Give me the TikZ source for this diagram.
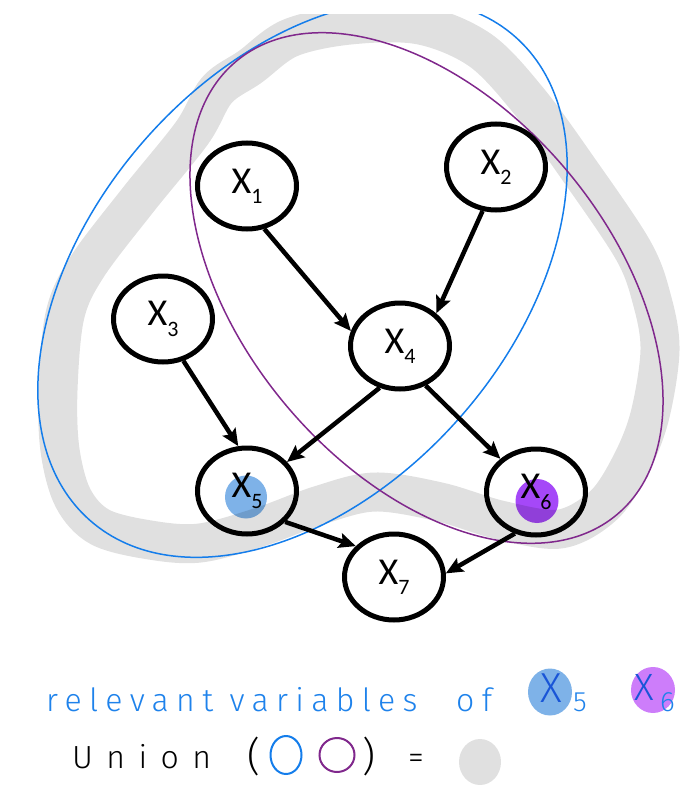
\documentclass[tikz,border=0pt]{standalone}
\usepackage{fontspec}
\setmainfont{Carlito}
\newfontfamily\hand{Fira Sans Light}[LetterSpace=23]
\newfontfamily\handwide{Fira Sans Light}[LetterSpace=42]
\usetikzlibrary{arrows.meta,shapes.geometric}
\definecolor{ringblue}{RGB}{20,125,235}
\definecolor{ringpurple}{RGB}{128,40,140}
\definecolor{dotblue}{RGB}{126,178,232}
\definecolor{dotpurple}{RGB}{165,72,248}
\definecolor{legpurple}{RGB}{205,125,250}
\definecolor{bandgray}{RGB}{224,224,224}
\definecolor{inkblue}{RGB}{30,130,235}
\definecolor{inkdark}{RGB}{25,85,215}
\newcommand{\xsub}[1]{X\raisebox{-0.27em}{\fontsize{22}{22}\selectfont #1}}
\tikzset{var/.style={draw,ellipse,line width=5pt,minimum width=99pt,minimum height=86pt,
    inner sep=0pt,font=\fontsize{38}{38}\selectfont},
  arr/.style={-{Stealth[length=17pt,width=15pt,inset=3pt]},line width=4.5pt},
  ring/.style={line width=1.5pt},
  band/.style={line width=39pt,bandgray,line join=round},
  hand/.style={font=\hand\fontsize{32}{32}\selectfont,inner sep=0pt},
  dot/.style={ellipse,inner sep=0pt}}

\begin{document}
\begin{tikzpicture}[x=1pt,y=1pt]
\useasboundingbox (0,0) rectangle (692,-800);
% the union band and the two relevance rings
\begin{scope}
\clip (0,-15) rectangle (692,-800);
\draw[band] plot[smooth cycle,tension=0.55] coordinates {(350,-25) (420,-25) (480,-50) (528,-100)
  (577,-167) (633,-250) (652,-300) (660,-350) (650,-415) (632,-462) (604,-505) (560,-529)
  (500,-520) (440,-502) (375,-492) (320,-505) (260,-527) (200,-543) (150,-540) (100,-527)
  (73,-498) (60,-450) (58,-390) (65,-315) (87,-267) (138,-200) (192,-133) (217,-90)
  (250,-67) (290,-38)};
\draw[ring,ringblue,rotate around={48.7:(302.5,-278.5)}] (302.5,-278.5) ellipse[x radius=322,y radius=210];
\draw[ring,ringpurple,rotate around={-49.9:(426.5,-288)}] (426.5,-288) ellipse[x radius=296,y radius=183];
\end{scope}

\begin{scope}[blend mode=multiply]
\node[dot,fill=dotblue,minimum width=42pt,minimum height=43pt] (d5) at (246,-497) {};
\node[dot,fill=dotpurple,minimum width=43pt,minimum height=44pt] (d6) at (537,-501) {};
\end{scope}

% the graph
\node[var] (x1) at (247,-186) {\xsub{1}};
\node[var] (x2) at (496,-167) {\xsub{2}};
\node[var] (x3) at (163,-319) {\xsub{3}};
\node[var] (x4) at (400,-346) {\xsub{4}};
\node[var] (x5) at (247,-491) {\xsub{5}};
\node[var] (x6) at (536,-492) {\xsub{6}};
\node[var] (x7) at (394,-577) {\xsub{7}};
\draw[arr] (x1.-68) -- (x4.163);
\draw[arr] (x2.-107) -- (x4.42);
\draw[arr] (x3.-64) -- (x5.101);
\draw[arr] (x4.-116) -- (x5.36);
\draw[arr] (x4.-57) -- (x6.137);
\draw[arr] (x5.-39) -- (x7.141);
\draw[arr] (x6.-117) -- (x7.4);

% handwritten legend
\node[hand,inkblue,anchor=base west] (rel) at (46,-711) {relevant variables};
\node[hand,inkblue,anchor=base west] (of) at (456,-711) {of};
\node[dot,fill=dotblue,minimum width=44pt,minimum height=47pt] (lb) at (550,-692) {};
\node[hand,inkdark,font=\hand\fontsize{42}{42}\selectfont,anchor=base] (lbx) at (551,-702) {X};
\node[hand,inkblue,font=\hand\fontsize{28}{28}\selectfont,anchor=base west] (lb5) at (573,-711) {5};
\node[dot,fill=legpurple,minimum width=44pt,minimum height=46pt] (lp) at (653,-690) {};
\node[hand,inkdark,font=\hand\fontsize{38}{38}\selectfont,anchor=base] (lpx) at (644,-700) {X};
\node[hand,inkblue,font=\hand\fontsize{28}{28}\selectfont,anchor=base west] (lp6) at (660,-711) {6};

\node[hand,font=\handwide\fontsize{32}{32}\selectfont,anchor=base west] (un) at (72,-768) {Union};
\node[hand,font=\hand\fontsize{40}{40}\selectfont,anchor=base] (lpar) at (254,-770) {(};
\node[dot,draw=ringblue,line width=2pt,minimum width=31pt,minimum height=38pt] (lr1) at (286,-755) {};
\node[dot,draw=ringpurple,line width=2pt,minimum width=35pt,minimum height=34pt] (lr2) at (337,-755) {};
\node[hand,font=\hand\fontsize{40}{40}\selectfont,anchor=base] (rpar) at (369,-770) {)};
\node[hand,anchor=base] (eq) at (416,-768) {=};
\node[dot,fill=bandgray,minimum width=42pt,minimum height=46pt] (lg) at (480,-762) {};
\end{tikzpicture}
\end{document}
